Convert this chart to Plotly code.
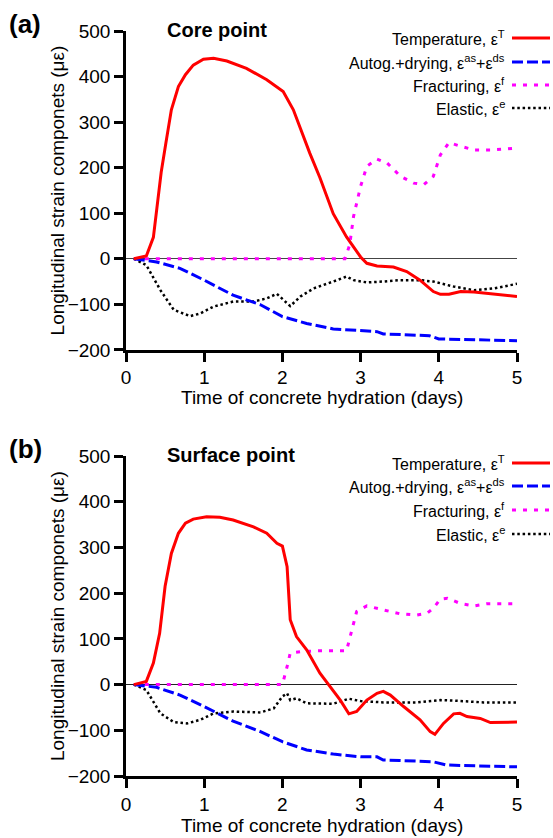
import plotly.graph_objects as go

# ---------------- data: (a) core point ----------------
core_T_x = [0.1, 0.26, 0.35, 0.40, 0.45, 0.51, 0.58, 0.67, 0.76, 0.86, 0.99, 1.12, 1.29, 1.54, 1.80, 2.01,
            2.14, 2.35, 2.48, 2.65, 2.82, 3.0, 3.08, 3.21, 3.42, 3.59, 3.76, 3.93, 4.02, 4.13, 4.28, 4.45, 4.71, 5.0]
core_T_y = [0, 6, 47, 120, 190, 254, 327, 378, 404, 425, 438, 440, 434, 418, 393, 367,
            327, 232, 178, 99, 48, 4, -10, -16, -18, -28, -47, -72, -78, -78, -72, -73, -77, -83]

core_S_x = [0.1, 0.39, 0.69, 1.0, 1.37, 1.72, 2.0, 2.31, 2.65, 3.0, 3.21, 3.29, 3.5, 3.88, 4.0, 4.36, 5.0]
core_S_y = [0, -7, -21, -47, -80, -101, -127, -142, -154, -158, -160, -165, -167, -169, -176, -178, -180]

core_F_x = [0.1, 2.80, 2.86, 2.91, 3.0, 3.08, 3.21, 3.34, 3.51, 3.68, 3.81, 3.93, 4.02, 4.13, 4.28, 4.45, 4.7, 5.0]
core_F_y = [0, 0, 30, 93, 159, 203, 219, 210, 181, 166, 163, 181, 228, 255, 247, 239, 239, 243]

core_E_x = [0.1, 0.26, 0.44, 0.61, 0.82, 0.95, 1.12, 1.37, 1.63, 1.80, 1.93, 2.10, 2.23, 2.40, 2.65, 2.82,
            2.91, 3.08, 3.29, 3.5, 3.76, 3.93, 4.19, 4.45, 4.71, 5.0]
core_E_y = [0, -14, -69, -112, -126, -120, -105, -94, -94, -87, -77, -104, -83, -65, -50, -39,
            -47, -52, -50, -47, -47, -50, -61, -69, -65, -55]

# ---------------- data: (b) surface point ----------------
surf_T_x = [0.1, 0.26, 0.35, 0.43, 0.50, 0.58, 0.67, 0.76, 0.86, 1.03, 1.20, 1.37, 1.63, 1.80, 1.93, 2.0,
            2.06, 2.08, 2.10, 2.18, 2.31, 2.48, 2.61, 2.74, 2.85, 2.95, 3.08, 3.21, 3.29, 3.38, 3.55, 3.76,
            3.89, 3.95, 4.06, 4.19, 4.27, 4.36, 4.53, 4.66, 5.0]
surf_T_y = [0, 7, 47, 112, 215, 287, 331, 353, 362, 367, 366, 360, 345, 331, 309, 303,
            258, 185, 142, 105, 76, 25, -4, -34, -64, -59, -34, -19, -15, -23, -48, -77,
            -103, -109, -85, -64, -63, -70, -74, -83, -82]

surf_S_x = [0.1, 0.39, 0.69, 1.0, 1.37, 1.72, 2.0, 2.31, 2.65, 3.0, 3.21, 3.29, 3.5, 3.93, 4.1, 4.36, 5.0]
surf_S_y = [0, -6, -23, -48, -80, -103, -125, -143, -152, -158, -158, -165, -166, -169, -176, -177, -180]

surf_F_x = [0.1, 2.0, 2.06, 2.10, 2.23, 2.48, 2.82, 2.91, 2.95, 3.08, 3.29, 3.5, 3.72, 3.85, 3.93, 4.02,
            4.11, 4.28, 4.45, 4.62, 5.0]
surf_F_y = [0, 0, 39, 69, 72, 74, 74, 134, 160, 172, 164, 155, 152, 156, 167, 187,
            189, 177, 172, 177, 177]

surf_E_x = [0.1, 0.26, 0.44, 0.61, 0.78, 0.95, 1.12, 1.37, 1.72, 1.89, 2.0, 2.06, 2.10, 2.18, 2.31, 2.65,
            2.85, 3.0, 3.29, 3.72, 4.02, 4.19, 4.57, 5.0]
surf_E_y = [0, -12, -63, -82, -85, -77, -63, -59, -61, -52, -26, -19, -34, -30, -41, -42,
            -31, -36, -39, -39, -34, -35, -39, -39]

x_ticks = [0, 1, 2, 3, 4, 5]
y_ticks = [-200, -100, 0, 100, 200, 300, 400, 500]

legend_labels = ["Temperature, ε<sup>T</sup>",
                 "Autog.+drying, ε<sup>as</sup>+ε<sup>ds</sup>",
                 "Fracturing, ε<sup>f</sup>",
                 "Elastic, ε<sup>e</sup>"]
panel_labels = ["(a)", "(b)"]
panel_titles = ["Core point", "Surface point"]
x_title = "Time of concrete hydration (days)"
y_title = "Longitudinal strain componets (με)"

# ---------------- styles ----------------
FONT = "Liberation Sans, Arial, sans-serif"
styles = [
    dict(color="#ff0000", width=3, dash="solid"),
    dict(color="#0000ff", width=3, dash="11px,4px"),
    dict(color="#ff00ff", width=3, dash="4px,7px"),
    dict(color="#000000", width=2.5, dash="2.5px,2.8px"),
]

fig = go.Figure()

panels = [
    ("x", "y", [(core_T_x, core_T_y), (core_S_x, core_S_y), (core_F_x, core_F_y), (core_E_x, core_E_y)]),
    ("x2", "y2", [(surf_T_x, surf_T_y), (surf_S_x, surf_S_y), (surf_F_x, surf_F_y), (surf_E_x, surf_E_y)]),
]
order = [3, 2, 1, 0]
for xa, ya, series in panels:
    for i in order:
        xs, ys = series[i]
        fig.add_trace(go.Scatter(x=xs, y=ys, xaxis=xa, yaxis=ya, mode="lines",
                                 line=styles[i], showlegend=False, hoverinfo="skip"))

axis_common = dict(showline=True, linecolor="black", linewidth=2.5, ticks="outside",
                   ticklen=9, tickwidth=2.5, tickcolor="black", showgrid=False,
                   tickfont=dict(size=19, color="black", family=FONT))
top_dom = [0.572, 1.0]
bot_dom = [0.0, 0.4295]
fig.update_layout(
    width=553, height=838,
    margin=dict(l=126, r=36, t=31, b=62),
    paper_bgcolor="white", plot_bgcolor="white",
    font=dict(family=FONT, color="black"),
    xaxis=dict(range=[0, 5], domain=[0, 1], anchor="y", tickvals=x_ticks, zeroline=False, **axis_common),
    yaxis=dict(range=[-200, 500], domain=top_dom, anchor="x", tickvals=y_ticks, zeroline=True,
               zerolinecolor="#444444", zerolinewidth=1, **axis_common),
    xaxis2=dict(range=[0, 5], domain=[0, 1], anchor="y2", tickvals=x_ticks, zeroline=False, **axis_common),
    yaxis2=dict(range=[-200, 500], domain=bot_dom, anchor="x2", tickvals=y_ticks, zeroline=True,
                zerolinecolor="#222222", zerolinewidth=1, **axis_common),
    showlegend=False,
)

H = 745.0
W = 391.0
def py(p):  # pixel y -> paper
    return (776 - p) / H
def px(p):
    return (p - 126) / W

ann = []
shapes = []
for k, dom in enumerate([top_dom, bot_dom]):
    off = 0 if k == 0 else 425
    ann.append(dict(text="<b>%s</b>" % panel_labels[k], x=px(25), y=py(24 + off), xref="paper", yref="paper",
                    showarrow=False, xanchor="center", yanchor="middle", font=dict(size=26, family=FONT)))
    ann.append(dict(text="<b>%s</b>" % panel_titles[k], x=px(165), y=py(30 + off), xref="paper", yref="paper",
                    showarrow=False, xanchor="left", yanchor="middle", font=dict(size=20, family=FONT)))
    ann.append(dict(text=y_title, x=px(57), y=(dom[0] + dom[1]) / 2, xref="paper", yref="paper",
                    textangle=-90, showarrow=False, xanchor="center", yanchor="middle",
                    font=dict(size=19, family=FONT)))
    rows = [38, 62, 85, 108] if k == 0 else [463 - 425 + 0, 486 - 425, 510 - 425, 534 - 425]
    for i, r in enumerate(rows):
        yy = py(r + off)
        ann.append(dict(text=legend_labels[i], x=px(507), y=yy, xref="paper", yref="paper",
                        showarrow=False, xanchor="right", yanchor="middle",
                        font=dict(size=16, family=FONT)))
        shapes.append(dict(type="line", xref="paper", yref="paper", x0=px(512), x1=px(550), y0=yy, y1=yy,
                           line=styles[i]))
ann.append(dict(text=x_title, x=0.5, y=py(397), xref="paper", yref="paper", showarrow=False,
                xanchor="center", yanchor="middle", font=dict(size=19, family=FONT)))
ann.append(dict(text=x_title, x=0.5, y=py(825), xref="paper", yref="paper", showarrow=False,
                xanchor="center", yanchor="middle", font=dict(size=19, family=FONT)))
fig.update_layout(annotations=ann, shapes=shapes)

fig.write_html("out.html")
